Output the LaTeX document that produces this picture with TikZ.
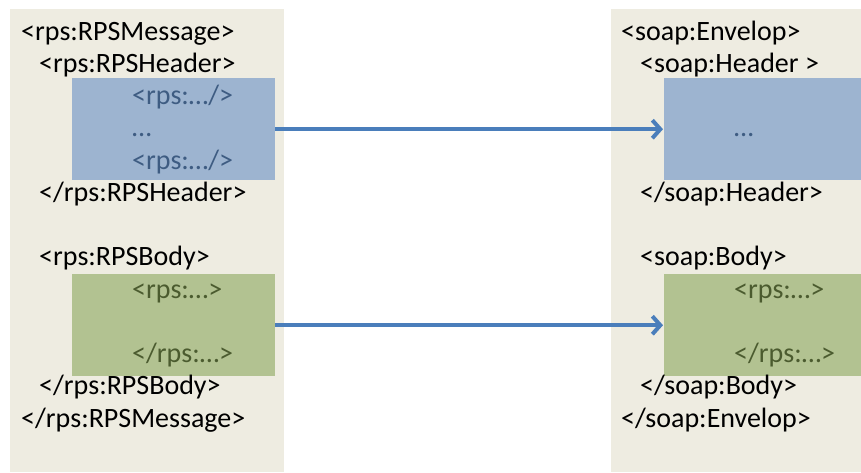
\documentclass[tikz,border=0pt]{standalone}
\usepackage{fontspec}
\setmainfont{Carlito}
\usetikzlibrary{arrows.meta}

\definecolor{fondo}{HTML}{EEECE1}
\definecolor{blu}{HTML}{9DB4D0}
\definecolor{verde}{HTML}{B2C291}
\definecolor{freccia}{HTML}{4A7EBB}
\definecolor{testoblu}{HTML}{3E5C82}
\definecolor{testoverde}{HTML}{4B5B2F}

\begin{document}
\begin{tikzpicture}[x=1pt, y=-1pt, >={Straight Barb[length=8pt,width=18pt]},
    riga/.style={anchor=base west, inner sep=0pt, font=\fontsize{28}{32}\selectfont},
    blocco/.style={anchor=north west, inner sep=0pt, minimum width=#1, minimum height=102pt},
    collega/.style={draw=freccia, line width=4pt, ->}]

    % === Parametri ===
    \def\xa{21}    % rientro livello 0 (sinistra)
    \def\xb{39}    % rientro livello 1 (sinistra)
    \def\xc{132}   % rientro livello 2 (sinistra)
    \def\xA{621}   % rientro livello 0 (destra)
    \def\xB{640}   % rientro livello 1 (destra)
    \def\xC{734}   % rientro livello 2 (destra)

    \useasboundingbox (0,0) rectangle (861,472);

    % === 1. Pannelli di sfondo ===
    \fill[fondo] (10,9) rectangle (284,472);
    \fill[fondo] (611,9) rectangle (861,472);

    % === 2. Blocchi colorati ===
    \node[blocco=203pt, fill=blu] (hdrL) at (72,78) {};
    \node[blocco=203pt, fill=verde] (bodyL) at (72,274) {};
    \node[blocco=197pt, fill=blu] (hdrR) at (664,78) {};
    \node[blocco=197pt, fill=verde] (bodyR) at (664,274) {};

    % === 3. Messaggio RPS (sinistra) ===
    \node[riga] (msgL) at (\xa,40) {<rps:RPSMessage>};
    \node[riga] (hdrLa) at (\xb,72.25) {<rps:RPSHeader>};
    \node[riga, text=testoblu] (hdrL1) at (\xc,104.5) {<rps:…/>};
    \node[riga, text=testoblu] (hdrL2) at (\xc,136.75) {…};
    \node[riga, text=testoblu] (hdrL3) at (\xc,169) {<rps:…/>};
    \node[riga] (hdrLb) at (\xb,201.25) {</rps:RPSHeader>};
    \node[riga] (bodyLa) at (\xb,265.75) {<rps:RPSBody>};
    \node[riga, text=testoverde] (bodyL1) at (\xc,298) {<rps:…>};
    \node[riga, text=testoverde] (bodyL2) at (\xc,362.5) {</rps:…>};
    \node[riga] (bodyLb) at (\xb,394.75) {</rps:RPSBody>};
    \node[riga] (msgLb) at (\xa,427) {</rps:RPSMessage>};

    % === 4. Busta SOAP (destra) ===
    \node[riga] (envR) at (\xA,40) {<soap:Envelop>};
    \node[riga] (hdrRa) at (\xB,72.25) {<soap:Header >};
    \node[riga, text=testoblu] (hdrR1) at (\xC,136.75) {…};
    \node[riga] (hdrRb) at (\xB,201.25) {</soap:Header>};
    \node[riga] (bodyRa) at (\xB,265.75) {<soap:Body>};
    \node[riga, text=testoverde] (bodyR1) at (\xC,298) {<rps:…>};
    \node[riga, text=testoverde] (bodyR2) at (\xC,362.5) {</rps:…>};
    \node[riga] (bodyRb) at (\xB,394.75) {</soap:Body>};
    \node[riga] (envRb) at (\xA,427) {</soap:Envelop>};

    % === 5. Frecce ===
    \draw[collega] (hdrL.east) -- ([xshift=-1pt]hdrR.west);
    \draw[collega] (bodyL.east) -- ([xshift=-1pt]bodyR.west);

\end{tikzpicture}
\end{document}
